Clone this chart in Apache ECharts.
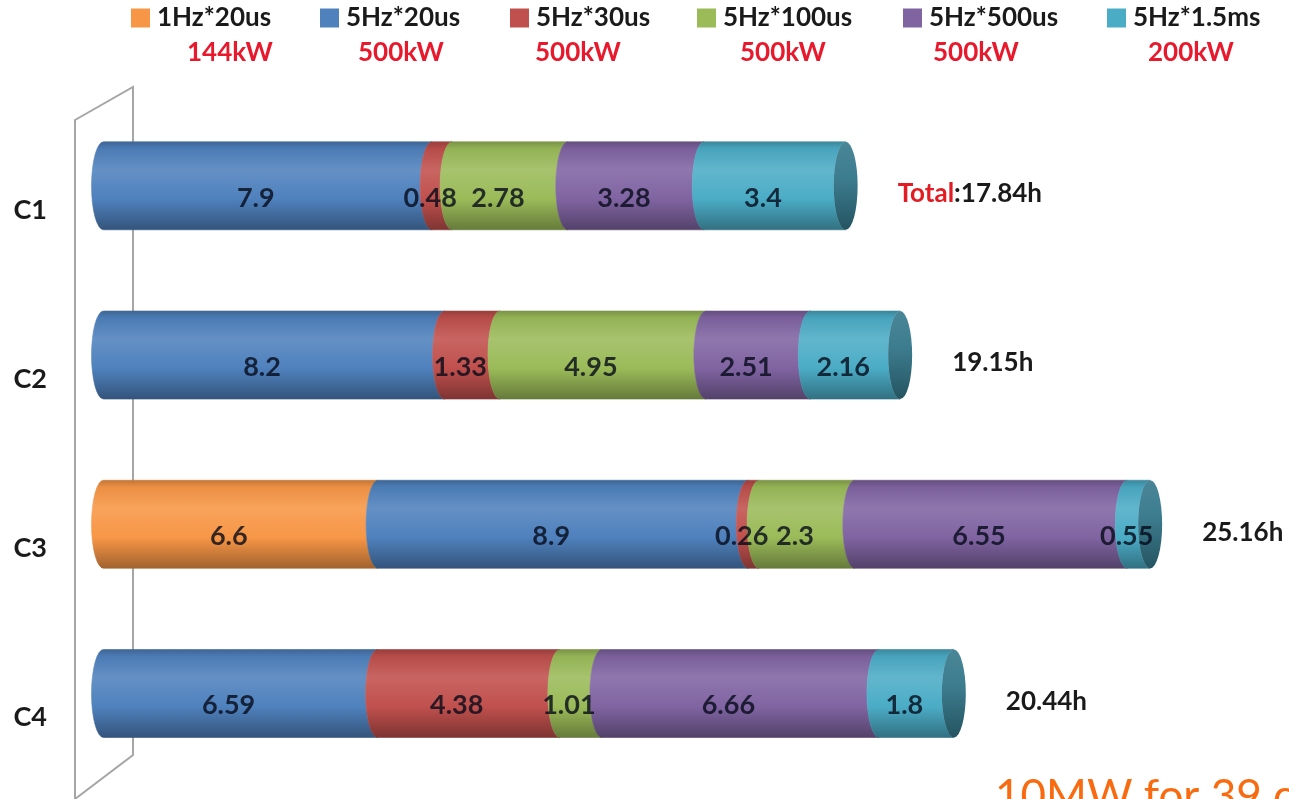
<!DOCTYPE html>
<html>
<head>
<meta charset="utf-8">
<script src="https://cdn.jsdelivr.net/npm/echarts@6/dist/echarts.min.js"></script>
<style>
  html, body { margin: 0; padding: 0; background: #ffffff; }
  #chart { width: 1289px; height: 799px; }
</style>
</head>
<body>
<div id="chart"></div>
<script>
// ---- data -------------------------------------------------------------
const categories = ['C1', 'C2', 'C3', 'C4'];
const modeNames = ['1Hz*20us', '5Hz*20us', '5Hz*30us', '5Hz*100us', '5Hz*500us', '5Hz*1.5ms'];
const modePower = ['144kW', '500kW', '500kW', '500kW', '500kW', '200kW'];

// operating hours per pulse mode, in category order C1..C4
const hours1Hz20us  = [0,    0,    6.6,  0];
const hours5Hz20us  = [7.9,  8.2,  8.9,  6.59];
const hours5Hz30us  = [0.48, 1.33, 0.26, 4.38];
const hours5Hz100us = [2.78, 4.95, 2.3,  1.01];
const hours5Hz500us = [3.28, 2.51, 6.55, 6.66];
const hours5Hz1_5ms = [3.4,  2.16, 0.55, 1.8];

const totalPrefix = ['Total', '', '', ''];

// ---- styling ----------------------------------------------------------
const modeColors = ['#f79646', '#4f81bd', '#c0504d', '#9bbb59', '#8064a2', '#4bacc6'];
const legendSquareLeft = [131, 320, 510, 697, 903, 1107];
const legendPowerIndent = [56, 38, 25, 43, 30, 41];
const FONT = 'Lato, "Open Sans", "DejaVu Sans", sans-serif';

const modeHours = [hours1Hz20us, hours5Hz20us, hours5Hz30us, hours5Hz100us, hours5Hz500us, hours5Hz1_5ms];

// running start of every segment and the total per category
const totals = categories.map(() => 0);
const segmentData = modeHours.map((arr) => {
  const rows = [];
  arr.forEach((v, j) => {
    if (v > 0) rows.push([j, totals[j], totals[j] + v, v]);
    totals[j] += v;
  });
  return rows;
});
const totalsRounded = totals.map((t) => Math.round(t * 100) / 100);
const labelData = [].concat.apply([], segmentData);

// lighten (p > 0) or darken (p < 0) a #rrggbb colour, result as #rrggbb
function shade(hex, p) {
  const n = parseInt(hex.slice(1), 16);
  const ch = [n >> 16, (n >> 8) & 255, n & 255].map((c) =>
    Math.max(0, Math.min(255, Math.round(p >= 0 ? c + (255 - c) * p : c * (1 + p)))));
  return '#' + ch.map((c) => c.toString(16).padStart(2, '0')).join('');
}

function tubeGradient(c) {
  return new echarts.graphic.LinearGradient(0, 0, 0, 1, [
    { offset: 0, color: shade(c, -0.22) },
    { offset: 0.08, color: shade(c, -0.05) },
    { offset: 0.32, color: shade(c, 0.12) },
    { offset: 0.65, color: c },
    { offset: 1, color: shade(c, -0.35) }
  ]);
}

const RX = 12;          // half width of the elliptical end faces
const BAR_RATIO = 0.52; // tube thickness relative to the category band

function tubeGeometry(api, v0, v1, cat) {
  const p0 = api.coord([v0, cat]);
  const p1 = api.coord([v1, cat]);
  const h = api.size([0, 1])[1] * BAR_RATIO;
  return { x0: p0[0], x1: p1[0], mid: p0[1], top: p0[1] - h / 2, bot: p0[1] + h / 2, ry: h / 2 };
}

function segmentRenderer(color) {
  return function (params, api) {
    const cat = api.value(0);
    const v0 = api.value(1);
    const v1 = api.value(2);
    const g = tubeGeometry(api, v0, v1, cat);
    const grad = tubeGradient(color);
    const d =
      'M' + (g.x0 + RX) + ',' + g.top +
      ' L' + (g.x1 + RX) + ',' + g.top +
      ' A' + RX + ',' + g.ry + ' 0 0 0 ' + (g.x1 + RX) + ',' + g.bot +
      ' L' + (g.x0 + RX) + ',' + g.bot +
      ' A' + RX + ',' + g.ry + ' 0 0 1 ' + (g.x0 + RX) + ',' + g.top + ' Z';
    const children = [{
      type: 'path',
      shape: { pathData: d },
      style: { fill: grad, stroke: grad, lineWidth: 0.6 }
    }];
    if (Math.abs(v1 - totals[cat]) < 1e-6) {
      // end face of the tube
      const capBase = shade(color, -0.3);
      const cx = g.x1 + RX;
      const cap =
        'M' + cx + ',' + g.top +
        ' A' + RX + ',' + g.ry + ' 0 0 1 ' + cx + ',' + g.bot +
        ' A' + RX + ',' + g.ry + ' 0 0 1 ' + cx + ',' + g.top + ' Z';
      children.push({
        type: 'path',
        shape: { pathData: cap },
        style: {
          fill: new echarts.graphic.LinearGradient(0, 0, 0, 1, [
            { offset: 0, color: shade(capBase, 0.1) },
            { offset: 0.4, color: shade(capBase, 0.04) },
            { offset: 1, color: shade(capBase, -0.3) }
          ])
        }
      });
    }
    return { type: 'group', children: children };
  };
}

const segmentSeries = modeNames.map((name, i) => ({
  name: name,
  type: 'custom',
  z: 2,
  renderItem: segmentRenderer(modeColors[i]),
  itemStyle: { color: modeColors[i] },
  encode: { x: [1, 2], y: 0 },
  data: segmentData[i],
  silent: true
}));

// value labels, drawn above every tube segment
const labelSeries = {
  name: 'values',
  type: 'custom',
  z: 3,
  encode: { x: [1, 2], y: 0 },
  data: labelData,
  silent: true,
  renderItem: function (params, api) {
    const g = tubeGeometry(api, api.value(1), api.value(2), api.value(0));
    return {
      type: 'text',
      x: (g.x0 + g.x1) / 2,
      y: g.mid + 12,
      style: {
        text: String(api.value(3)),
        fill: 'rgba(5,10,25,0.8)',
        font: 'bold 27px ' + FONT,
        align: 'center',
        verticalAlign: 'middle'
      }
    };
  }
};

const totalSeries = {
  name: 'total',
  type: 'custom',
  z: 3,
  encode: { x: 1, y: 0 },
  data: categories.map((c, j) => [j, totalsRounded[j]]),
  silent: true,
  renderItem: function (params, api) {
    const j = api.value(0);
    const p = api.coord([api.value(1), j]);
    const prefix = totalPrefix[j];
    const txt = (prefix ? '{r|' + prefix + '}{k|:' : '{k|') + totalsRounded[j] + 'h}';
    return {
      type: 'text',
      x: p[0] + 64,
      y: p[1] + 8,
      style: {
        text: txt,
        align: 'left',
        verticalAlign: 'middle',
        rich: {
          r: { fill: '#e31b23', font: 'bold 26px ' + FONT },
          k: { fill: '#1a1a1a', font: 'bold 26px ' + FONT }
        }
      }
    };
  }
};

// legend: one component per pulse mode, name over its peak power
const legendRich = {
  n: { fontFamily: FONT, fontWeight: 'bold', fontSize: 26, color: '#1a1a1a', lineHeight: 35, padding: [0, 0, 0, 7] }
};
modeColors.forEach((c, i) => {
  legendRich['sq' + i] = { width: 19, height: 19, backgroundColor: c, lineHeight: 35 };
  legendRich['p' + i] = { fontFamily: FONT, fontWeight: 'bold', fontSize: 26, color: '#e8192c', lineHeight: 35, padding: [0, 0, 0, legendPowerIndent[i]] };
});
const legends = modeNames.map((name, i) => ({
  data: [name],
  left: legendSquareLeft[i] - 5,
  top: 5,
  padding: 0,
  icon: 'none',
  itemWidth: 0,
  itemHeight: 19,
  selectedMode: false,
  textStyle: { rich: legendRich },
  formatter: function (n) {
    return '{sq' + i + '|}{n|' + n + '}\n{p' + i + '|' + modePower[i] + '}';
  }
}));

const chart = echarts.init(document.getElementById('chart'), null, { renderer: 'canvas' });
chart.setOption({
  backgroundColor: '#ffffff',
  animation: false,
  legend: legends,
  grid: { left: 91.5, right: 32.7, top: 101.2, bottom: 20.9, containLabel: false },
  xAxis: {
    type: 'value', min: 0, max: 28, show: false
  },
  yAxis: {
    type: 'category',
    data: categories,
    inverse: true,
    axisLine: { show: false },
    axisTick: { show: false },
    splitLine: { show: false },
    axisLabel: {
      margin: 44.5,
      verticalAlign: 'top',
      lineHeight: 48,
      fontFamily: FONT,
      fontWeight: 'bold',
      fontSize: 27,
      color: '#1a1a1a'
    }
  },
  graphic: [
    {
      type: 'polygon',
      z: 0,
      silent: true,
      shape: { points: [[75, 120], [133, 87], [133, 755], [75, 799]] },
      style: { fill: 'none', stroke: '#a6a6a6', lineWidth: 2 }
    },
    {
      type: 'text',
      left: 995,
      top: 775,
      silent: true,
      style: { text: '10MW for 39 cavities', fill: '#f96b10', font: '44px ' + FONT }
    }
  ],
  series: segmentSeries.concat([labelSeries, totalSeries])
});
</script>
</body>
</html>
